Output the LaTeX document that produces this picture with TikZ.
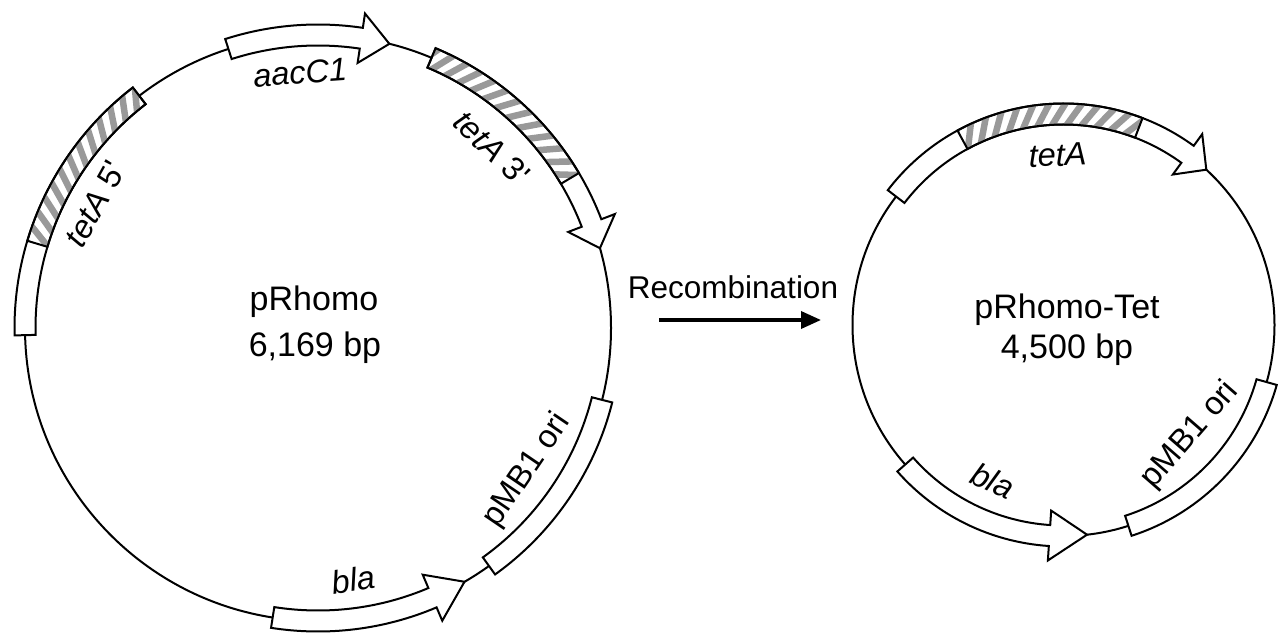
\documentclass[tikz,border=0pt]{standalone}
\usepackage{fontspec}
\setmainfont{Liberation Sans}
\usetikzlibrary{arrows.meta}
\definecolor{hatchgray}{RGB}{153,153,153}
\tikzset{
  backbone/.style={line width=2pt, draw=black},
  feat/.style={draw=black, line width=2pt, fill=white},
  featline/.style={draw=black, line width=2pt},
  hatchline/.style={line width=6.5pt, draw=hatchgray},
  biglabel/.style={font=\fontsize{34}{40}\selectfont, inner sep=0pt},
  recomblabel/.style={font=\fontsize{31.5}{38}\selectfont, inner sep=0pt},
  genelabel/.style={font=\fontsize{32.5}{38}\selectfont, inner sep=0pt},
  recombarrow/.style={line width=3.5pt, -{Triangle[length=20pt,width=17pt]}},
}
% box path between angles #2 and #3 on radius #1
\newcommand\setboxpath[3]{%
  \pgfmathsetmacro\rOut{#1+10.5}\pgfmathsetmacro\rIn{#1-10.5}%
  \edef\bpath{(#2:\rOut pt) arc[start angle=#2,end angle=#3,radius=\rOut pt] -- (#3:\rIn pt) arc[start angle=#3,end angle=#2,radius=\rIn pt] -- cycle}%
}
\newcommand\plasmidbox[3]{%
  \setboxpath{#1}{#2}{#3}%
  \draw[feat] \bpath;
}
% arrow: radius, start angle, head base angle, tip angle
\newcommand\plasmidarrow[4]{%
  \pgfmathsetmacro\rOut{#1+10.5}\pgfmathsetmacro\rIn{#1-10.5}%
  \pgfmathsetmacro\hdOut{#1+25}\pgfmathsetmacro\hdIn{#1-25}%
  \draw[feat] (#2:\rOut pt) arc[start angle=#2,end angle=#3,radius=\rOut pt] -- (#3:\hdOut pt) -- (#4:#1pt) -- (#3:\hdIn pt) -- (#3:\rIn pt) arc[start angle=#3,end angle=#2,radius=\rIn pt] -- cycle;
}
\newcommand\plasmidhatch[3]{%
  \setboxpath{#1}{#2}{#3}%
  \pgfmathsetmacro\hIn{#1-16}\pgfmathsetmacro\hOut{#1+16}%
  \pgfmathsetmacro\stp{15.5/#1*57.2958}%
  \pgfmathsetmacro\dlt{21/#1*57.2958}%
  \pgfmathtruncatemacro\nst{abs(#2-#3)/\stp+6}%
  \pgfmathsetmacro\lo{min(#2,#3)-2*\stp}%
  \begin{scope}
    \clip \bpath;
    \foreach \i in {0,...,\nst}{%
      \pgfmathsetmacro\ph{\lo+\i*\stp}%
      \pgfmathsetmacro\phb{\ph-\dlt}%
      \draw[hatchline] (\ph:\hIn pt) -- (\phb:\hOut pt);}
  \end{scope}
  \draw[featline] \bpath;
}
\begin{document}
\begin{tikzpicture}[x=1pt,y=1pt]
\useasboundingbox (0,0) rectangle (1282,633);
\coordinate (cL) at (318,305);
\coordinate (cR) at (1063.5,308);
\draw[backbone] (cL) circle[radius=293pt];
\draw[backbone] (cR) circle[radius=211pt];
% ---- left plasmid
\begin{scope}[shift={(cL)}]
  \plasmidarrow{293}{107.8}{81.5}{75.9}
  \plasmidbox{293}{127.6}{181.4}
  \plasmidhatch{293}{127.6}{163.3}
  \plasmidarrow{293}{67.2}{21}{15.8}
  \plasmidhatch{293}{67.2}{30.7}
  \plasmidbox{293}{-14.2}{-54.3}
  \plasmidarrow{293}{-98.9}{-67}{-60}
  \node[genelabel, rotate=4] (lAac) at (94:256pt) {\textit{aacC1}};
  \node[genelabel, rotate=60.9] (lTet5) at (150.9:255pt) {\textit{tetA} 5\textquotesingle};
  \node[genelabel, rotate=-44] (lTet3) at (46:250pt) {\textit{tetA} 3\textquotesingle};
  \node[genelabel, rotate=55.8] (lOri) at (-34.2:253pt) {pMB1 ori};
  \node[genelabel, rotate=8] (lBla) at (-82:254pt) {\textit{bla}};
\end{scope}
\node[biglabel] (nameL) at (314,331) {pRhomo};
\node[biglabel] (sizeL) at (315,285) {6,169 bp};
% ---- right plasmid
\begin{scope}[shift={(cR)}]
  \plasmidarrow{211}{142.5}{54}{47.4}
  \plasmidhatch{211}{118.6}{69.1}
  \plasmidarrow{211}{-138.6}{-93.8}{-83.6}
  \plasmidbox{211}{-72.1}{-15.7}
  \node[genelabel, rotate=2] (rTet) at (92:170pt) {\textit{tetA}};
  \node[genelabel, rotate=-25] (rBla) at (-114.3:171pt) {\textit{bla}};
  \node[genelabel, rotate=49] (rOri) at (-41:168pt) {pMB1 ori};
\end{scope}
\node[biglabel] (nameR) at (1067,323) {pRhomo-Tet};
\node[biglabel] (sizeR) at (1067,283) {4,500 bp};
% ---- recombination arrow
\node[recomblabel] (recomb) at (733,346) {Recombination};
\coordinate (arrS) at (659,313);
\coordinate (arrE) at (821,313);
\draw[recombarrow] (arrS) -- (arrE);
\end{tikzpicture}
\end{document}
